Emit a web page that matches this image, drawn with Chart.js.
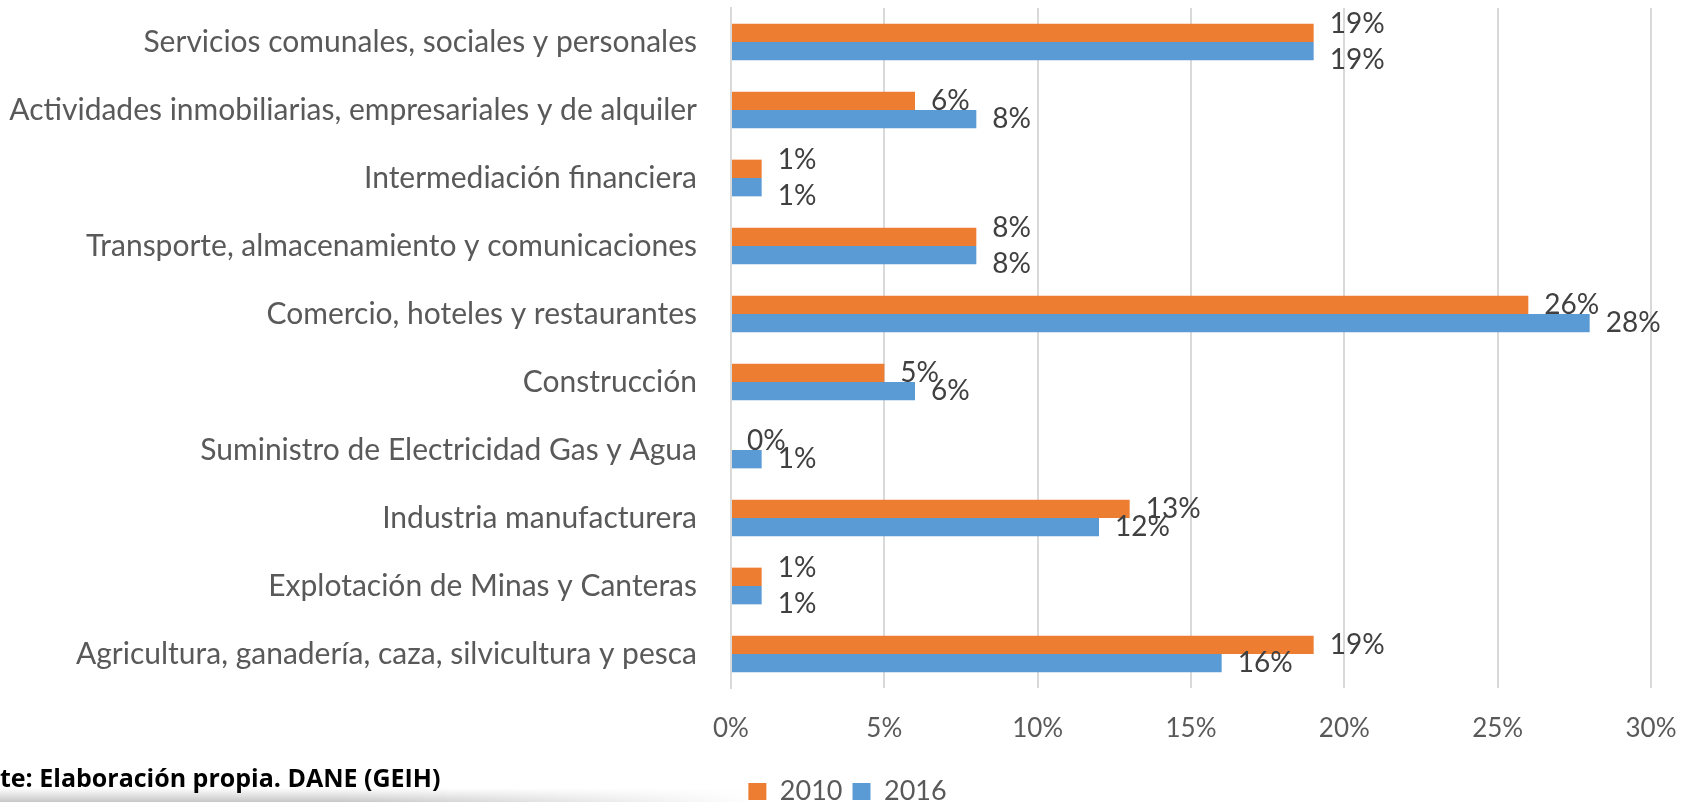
<!DOCTYPE html>
<html>
<head>
<meta charset="utf-8">
<script src="https://cdn.jsdelivr.net/npm/chart.js@4"></script>
<style>
  html, body { margin: 0; padding: 0; background: #fff; }
  #wrap { position: relative; width: 1695px; height: 802px; overflow: hidden; }
  #fuente {
    position: absolute; left: 0; top: 759px;
    font-family: "Open Sans", sans-serif; font-weight: bold; font-size: 25px;
    color: #000; white-space: nowrap; line-height: 36px;
  }
  #sombra {
    position: absolute; left: 0; top: 788px; width: 760px; height: 14px;
    background: linear-gradient(to bottom, rgba(0,0,0,0), rgba(0,0,0,0.22));
    -webkit-mask-image: linear-gradient(to right, #000 45%, transparent);
    mask-image: linear-gradient(to right, #000 45%, transparent);
  }
</style>
</head>
<body>
<div id="wrap">
  <canvas id="grafico" width="1695" height="802"></canvas>
  <div id="fuente">te: Elaboración propia. DANE (GEIH)</div>
  <div id="sombra"></div>
</div>
<script>
var sectores = [
    'Servicios comunales, sociales y personales',
    'Actividades inmobiliarias, empresariales y de alquiler',
    'Intermediación financiera',
    'Transporte, almacenamiento y comunicaciones',
    'Comercio, hoteles y restaurantes',
    'Construcción',
    'Suministro de Electricidad Gas y Agua',
    'Industria manufacturera',
    'Explotación de Minas y Canteras',
    'Agricultura, ganadería, caza, silvicultura y pesca'
];
var valores2010 = [19, 6, 1, 8, 26, 5, 0, 13, 1, 19];
var valores2016 = [19, 8, 1, 8, 28, 6, 1, 12, 1, 16];
var anios = ['2010', '2016'];
var ticksX = [0, 5, 10, 15, 20, 25, 30];

var fuente = 'Lato, sans-serif';

// etiquetas de datos al final de cada barra
var etiquetas = {
    id: 'etiquetas',
    afterDatasetsDraw: function (chart) {
        var ctx = chart.ctx;
        var m0 = chart.getDatasetMeta(0), m1 = chart.getDatasetMeta(1);
        ctx.save();
        ctx.font = '28px ' + fuente;
        ctx.fillStyle = '#404040';
        ctx.textAlign = 'left';
        ctx.textBaseline = 'middle';
        for (var i = 0; i < sectores.length; i++) {
            var a = m0.data[i], b = m1.data[i];
            var ya = a.y, yb = b.y;
            // si las dos etiquetas caen una sobre otra, separarlas
            if (Math.abs(a.x - b.x) < 5) {
                var c = (ya + yb) / 2;
                ya = c - 18; yb = c + 18;
            }
            ctx.fillText(valores2010[i] + '%', a.x + 16, ya);
            ctx.fillText(valores2016[i] + '%', b.x + 16, yb);
        }
        ctx.restore();
    }
};

var ctx = document.getElementById('grafico').getContext('2d');
var myChart = new Chart(ctx, {
    type: 'bar',
    data: {
        labels: sectores,
        datasets: [{
            label: anios[0],
            data: valores2010,
            backgroundColor: '#ED7D31',
            categoryPercentage: 0.54,
            barPercentage: 1
        }, {
            label: anios[1],
            data: valores2016,
            backgroundColor: '#5B9BD5',
            categoryPercentage: 0.54,
            barPercentage: 1
        }]
    },
    options: {
        indexAxis: 'y',
        responsive: false,
        animation: false,
        layout: { padding: { top: 8, right: 0, left: 0, bottom: -13 } },
        scales: {
            x: {
                min: 0, max: 30,
                afterBuildTicks: function (s) {
                    s.ticks = ticksX.map(function (v) { return { value: v }; });
                },
                afterFit: function (s) {
                    s.height = 80;
                    s.paddingLeft = 0;
                    s.paddingRight = 44;
                },
                grid: { color: '#D9D9D9', lineWidth: 2, drawTicks: false },
                border: { display: false },
                ticks: {
                    padding: 25,
                    color: '#595959',
                    font: { family: fuente, size: 26 },
                    callback: function (v) { return v + '%'; }
                }
            },
            y: {
                afterFit: function (s) {
                    s.width = 731;
                    s.paddingTop = 0;
                    s.paddingBottom = 0;
                },
                grid: { display: false, drawTicks: false },
                border: { display: true, color: '#D9D9D9', width: 2 },
                ticks: {
                    padding: 34,
                    color: '#595959',
                    font: { family: fuente, size: 30 }
                }
            }
        },
        plugins: {
            legend: {
                position: 'bottom',
                labels: {
                    boxWidth: 18, boxHeight: 17,
                    color: '#595959',
                    font: { family: fuente, size: 27 },
                    padding: 10
                }
            },
            tooltip: { enabled: false }
        }
    },
    plugins: [etiquetas]
});
</script>
</body>
</html>
